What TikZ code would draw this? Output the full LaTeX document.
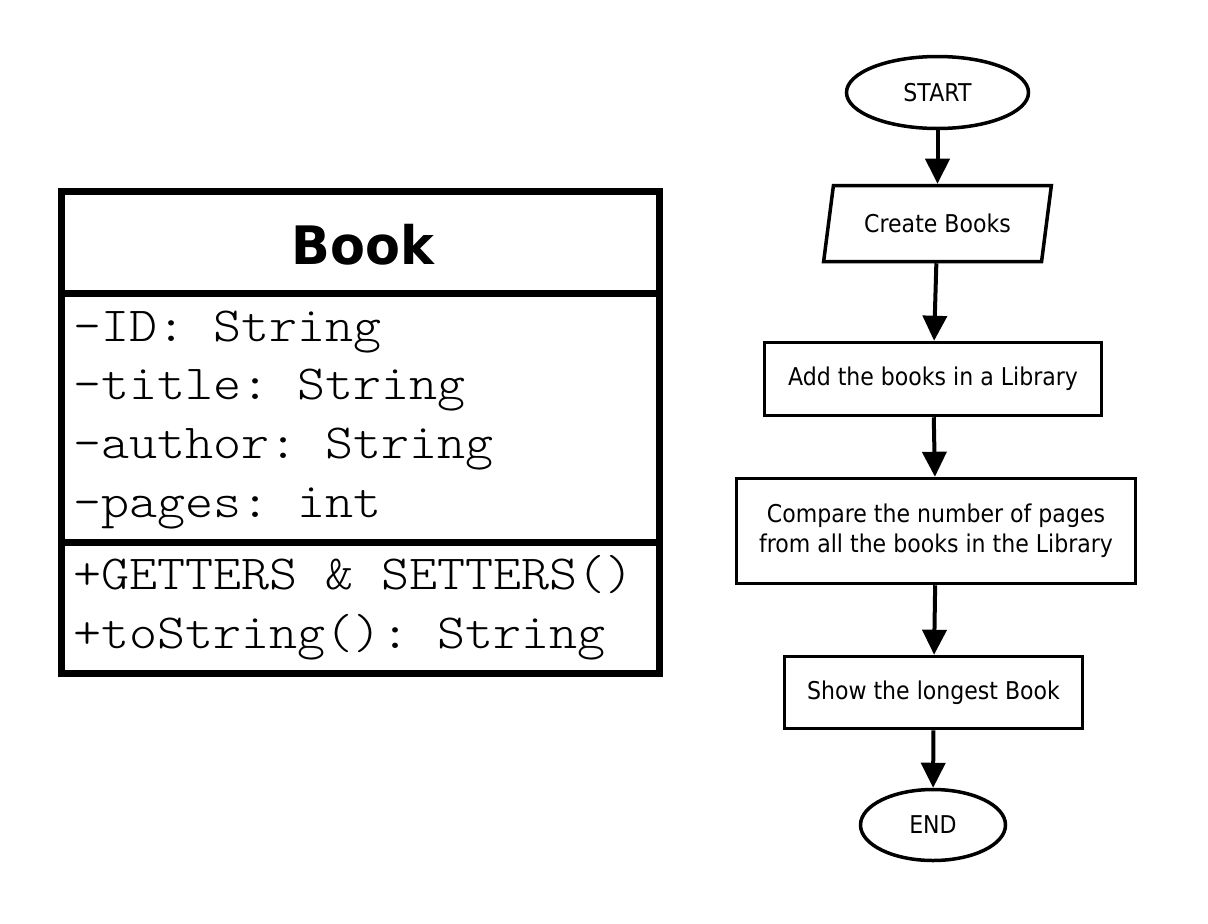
\documentclass[tikz,border=0pt]{standalone}
\usepackage{fontspec}
\setmainfont{DejaVu Sans}[FakeStretch=0.9]
\newfontfamily\titlefont{DejaVu Sans}[FakeStretch=0.96]
\setmonofont{Latin Modern Mono Light}[FakeStretch=1.09]
\usetikzlibrary{arrows.meta,shapes.geometric}

\begin{document}
\begin{tikzpicture}[x=1pt,y=-1pt,
  umlline/.style={line width=7pt},
  umltext/.style={anchor=base west,inner sep=0pt,font=\ttfamily\fontsize{49}{52}\selectfont},
  flowshape/.style={draw,line width=3.5pt,inner sep=0pt,align=center,font=\fontsize{24.5}{30}\selectfont},
  flowarrow/.style={line width=4pt,-{Triangle[length=25pt,width=24pt]}}]
  \useasboundingbox (0,0) rectangle (1208,924);
  % class box
  \draw[umlline] (61.5,191.5) rectangle (659.5,673.5);
  \foreach \y in {293,542}{\draw[umlline] (61.5,\y) -- (659.5,\y);}
  \node[anchor=base,inner sep=0pt,font=\titlefont\bfseries\fontsize{53}{60}\selectfont] (booktitle) at (363,264) {Book};
  \foreach \txt [count=\i] in {-ID: String,-title: String,-author: String,-pages: int}
    \node[umltext] (attr\i) at (73,{341+58.7*(\i-1)}) {\txt};
  \node[umltext] (meth1) at (73,589) {+GETTERS \& SETTERS()};
  \node[umltext] (meth2) at (73,648) {+toString(): String};
  % flowchart
  \node[flowshape,ellipse,minimum width=182pt,minimum height=72pt] (start) at (937.5,92.5) {START};
  \node[flowshape,trapezium,trapezium left angle=70,trapezium right angle=110,trapezium stretches=true,minimum width=228pt,minimum height=76pt] (create) at (937.5,223.5) {Create Books};
  \node[flowshape,minimum width=337pt,minimum height=73pt] (addlib) at (933,379) {Add the books in a Library};
  \node[flowshape,minimum width=399pt,minimum height=105pt] (compare) at (936,531) {Compare the number of pages\\from all the books in the Library};
  \node[flowshape,minimum width=298pt,minimum height=72pt] (longest) at (933.5,692.5) {Show the longest Book};
  \node[flowshape,ellipse,minimum width=145pt,minimum height=71pt] (stop) at (933,825) {END};
  \foreach \a/\b in {start/create,create/addlib,addlib/compare,compare/longest,longest/stop}
    \draw[flowarrow] (\a) -- (\b);
\end{tikzpicture}
\end{document}
